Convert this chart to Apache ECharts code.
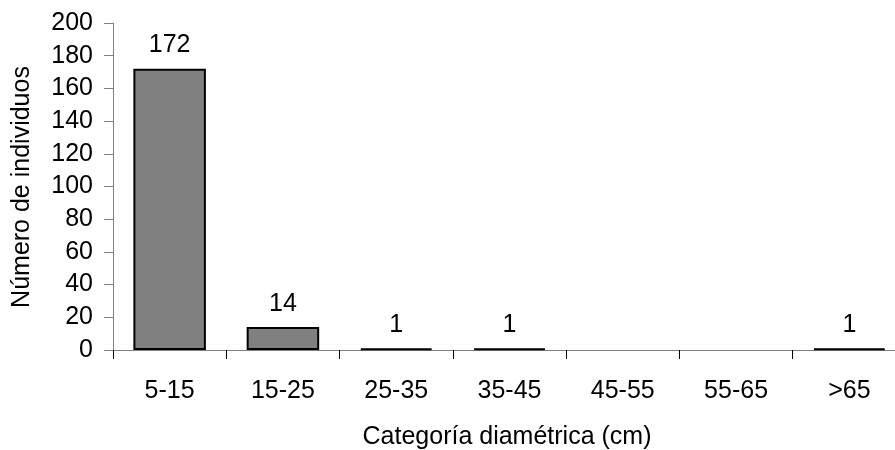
<!DOCTYPE html>
<html>
<head>
<meta charset="utf-8">
<script src="https://cdn.jsdelivr.net/npm/echarts@6/dist/echarts.min.js"></script>
<style>html,body{margin:0;padding:0;background:#fff;}#c{width:895px;height:450px;}</style>
</head>
<body>
<div id="c"></div>
<script>
const categories = ['5-15', '15-25', '25-35', '35-45', '45-55', '55-65', '>65'];
const counts = [172, 14, 1, 1, 0, 0, 1];
const yTicks = { min: 0, max: 200, interval: 20 };
const xAxisName = 'Categoría diamétrica (cm)';
const yAxisName = 'Número de individuos';

const font = '"Liberation Sans", Arial, sans-serif';
const chart = echarts.init(document.getElementById('c'), null, { renderer: 'canvas' });
chart.setOption({
  animation: false,
  backgroundColor: '#ffffff',
  grid: { left: 113, top: 23, width: 793, height: 327, containLabel: false, outerBoundsMode: 'none' },
  xAxis: {
    type: 'category',
    data: categories,
    axisLine: { lineStyle: { color: '#808080', width: 1 } },
    axisTick: { show: true, length: 9, lineStyle: { color: '#000000', width: 1 } },
    axisLabel: { color: '#000', fontFamily: font, fontSize: 25, margin: 29 },
    splitLine: { show: false }
  },
  yAxis: {
    type: 'value',
    min: yTicks.min, max: yTicks.max, interval: yTicks.interval,
    axisLine: { show: true, lineStyle: { color: '#808080', width: 1 } },
    axisTick: { show: true, length: 9, lineStyle: { color: '#808080', width: 1 } },
    axisLabel: { color: '#000', fontFamily: font, fontSize: 25, margin: 20 },
    splitLine: { show: false }
  },
  series: [{
    type: 'bar',
    data: counts.map(v => v === 0 ? null : v),
    barWidth: '64%',
    itemStyle: { color: '#808080', borderColor: '#000000', borderWidth: 2 },
    label: { show: true, position: 'top', distance: 11, color: '#000', fontFamily: font, fontSize: 25 }
  }],
  graphic: [
    { type: 'text', x: 507, y: 437, style: { text: xAxisName, fill: '#000', font: '25px ' + font, textAlign: 'center', textVerticalAlign: 'middle' } },
    { type: 'text', x: 22, y: 187, rotation: Math.PI / 2, style: { text: yAxisName, fill: '#000', font: '25px ' + font, textAlign: 'center', textVerticalAlign: 'middle' } }
  ]
});
</script>
</body>
</html>
